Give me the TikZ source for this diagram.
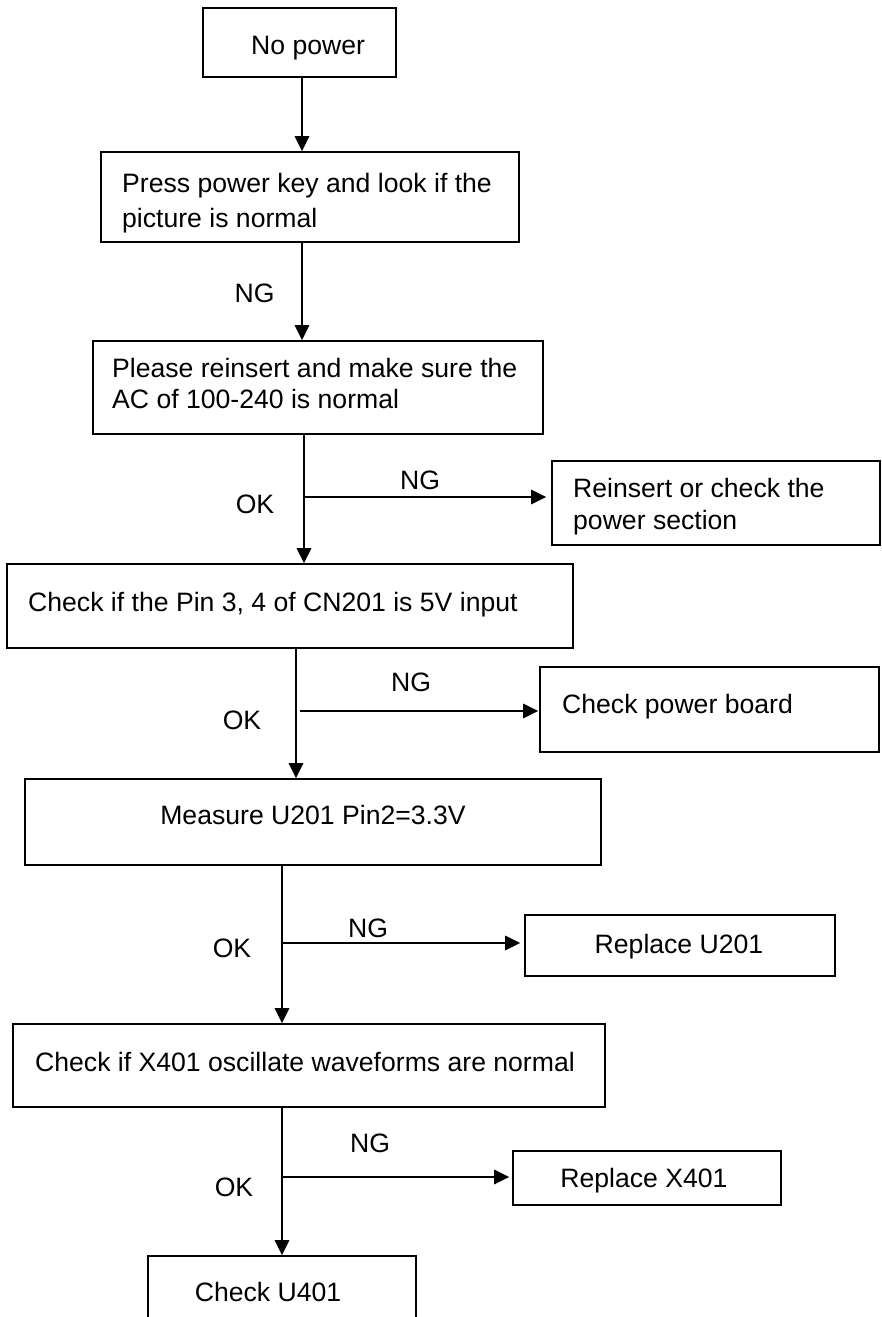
\documentclass[tikz,border=0pt]{standalone}
\usepackage{fontspec}
\setmainfont{Liberation Sans}
\usetikzlibrary{arrows.meta,fit}
\tikzset{
  box/.style={draw, line width=1.6pt, rectangle, inner sep=0pt},
  txt/.style={inner sep=0pt, font=\fontsize{26.6pt}{32pt}\selectfont},
  arr/.style={line width=1.6pt, -{Triangle[length=15pt,width=14.5pt]}},
  ln/.style={line width=1.6pt}
}
\begin{document}
\begin{tikzpicture}[x=1pt,y=-1pt]
\useasboundingbox (0,0) rectangle (881,1317);
\clip (0,0) rectangle (881,1317);
% boxes
\node[box, fit={(203,8) (396,77)}] (b1) {};
\node[box, fit={(101,152) (519,242)}] (b2) {};
\node[box, fit={(93,341) (543,434)}] (b3) {};
\node[box, fit={(552,461) (880,545)}] (b4) {};
\node[box, fit={(7,564) (573,648)}] (b5) {};
\node[box, fit={(540,667) (879,752)}] (b6) {};
\node[box, fit={(25,779) (601,865)}] (b7) {};
\node[box, fit={(525,915) (835,976)}] (b8) {};
\node[box, fit={(13,1024) (605,1107)}] (b9) {};
\node[box, fit={(513,1151) (781,1205)}] (b10) {};
\node[box, fit={(148,1256) (416,1345)}] (b11) {};
% texts
\node[txt, anchor=base west] (t1) at (251,54.5) {No power};
\node[txt, anchor=base west] (t2a) at (122,192.5) {Press power key and look if the};
\node[txt, anchor=base west] (t2b) at (122,227.5) {picture is normal};
\node[txt, anchor=base west] (t3a) at (112,377.5) {Please reinsert and make sure the};
\node[txt, anchor=base west] (t3b) at (112,408.5) {AC of 100-240 is normal};
\node[txt, anchor=base west] (t4a) at (573,497.5) {Reinsert or check the};
\node[txt, anchor=base west] (t4b) at (573,529.5) {power section};
\node[txt, anchor=base west] (t5) at (28,611.5) {Check if the Pin 3, 4 of CN201 is 5V input};
\node[txt, anchor=base west] (t6) at (562,713.5) {Check power board};
\node[txt, anchor=base] (t7) at (313,824.5) {Measure U201 Pin2=3.3V};
\node[txt, anchor=base] (t8) at (679,953) {Replace U201};
\node[txt, anchor=base west] (t9) at (35,1071.5) {Check if X401 oscillate waveforms are normal};
\node[txt, anchor=base] (t10) at (644,1187.5) {Replace X401};
\node[txt, anchor=base] (t11) at (268,1301.5) {Check U401};
% labels
\node[txt, anchor=base] (ng1) at (254.5,302) {NG};
\node[txt, anchor=base] (ng2) at (420,489.5) {NG};
\node[txt, anchor=base] (ok2) at (255,513.5) {OK};
\node[txt, anchor=base] (ng3) at (411,691.5) {NG};
\node[txt, anchor=base] (ok3) at (242,729.5) {OK};
\node[txt, anchor=base] (ng4) at (368,937.5) {NG};
\node[txt, anchor=base] (ok4) at (232,957.5) {OK};
\node[txt, anchor=base] (ng5) at (370,1152.5) {NG};
\node[txt, anchor=base] (ok5) at (234,1196.5) {OK};
% junction coordinates
\coordinate (c1) at (302,0);
\coordinate (c2) at (302,0);
\coordinate (c3) at (304,0);
\coordinate (c5) at (296,0);
\coordinate (c7) at (282,0);
\coordinate (j3) at (305,497);
\coordinate (j5) at (300,711);
\coordinate (j7) at (282,943);
\coordinate (j9) at (283,1177);
% connectors
\draw[arr] (b1.south -| c1) -- (b2.north -| c1);
\draw[arr] (b2.south -| c2) -- (b3.north -| c2);
\draw[arr] (b3.south -| c3) -- (b5.north -| c3);
\draw[arr, shorten >=5pt] (j3) -- (j3 -| b4.west);
\draw[arr] (b5.south -| c5) -- (b7.north -| c5);
\draw[arr, shorten >=1pt] (j5) -- (j5 -| b6.west);
\draw[arr] (b7.south -| c7) -- (b9.north -| c7);
\draw[arr, shorten >=4pt] (j7) -- (j7 -| b8.west);
\draw[arr] (b9.south -| c7) -- (b11.north -| c7);
\draw[arr, shorten >=3pt] (j9) -- (j9 -| b10.west);
\end{tikzpicture}
\end{document}
